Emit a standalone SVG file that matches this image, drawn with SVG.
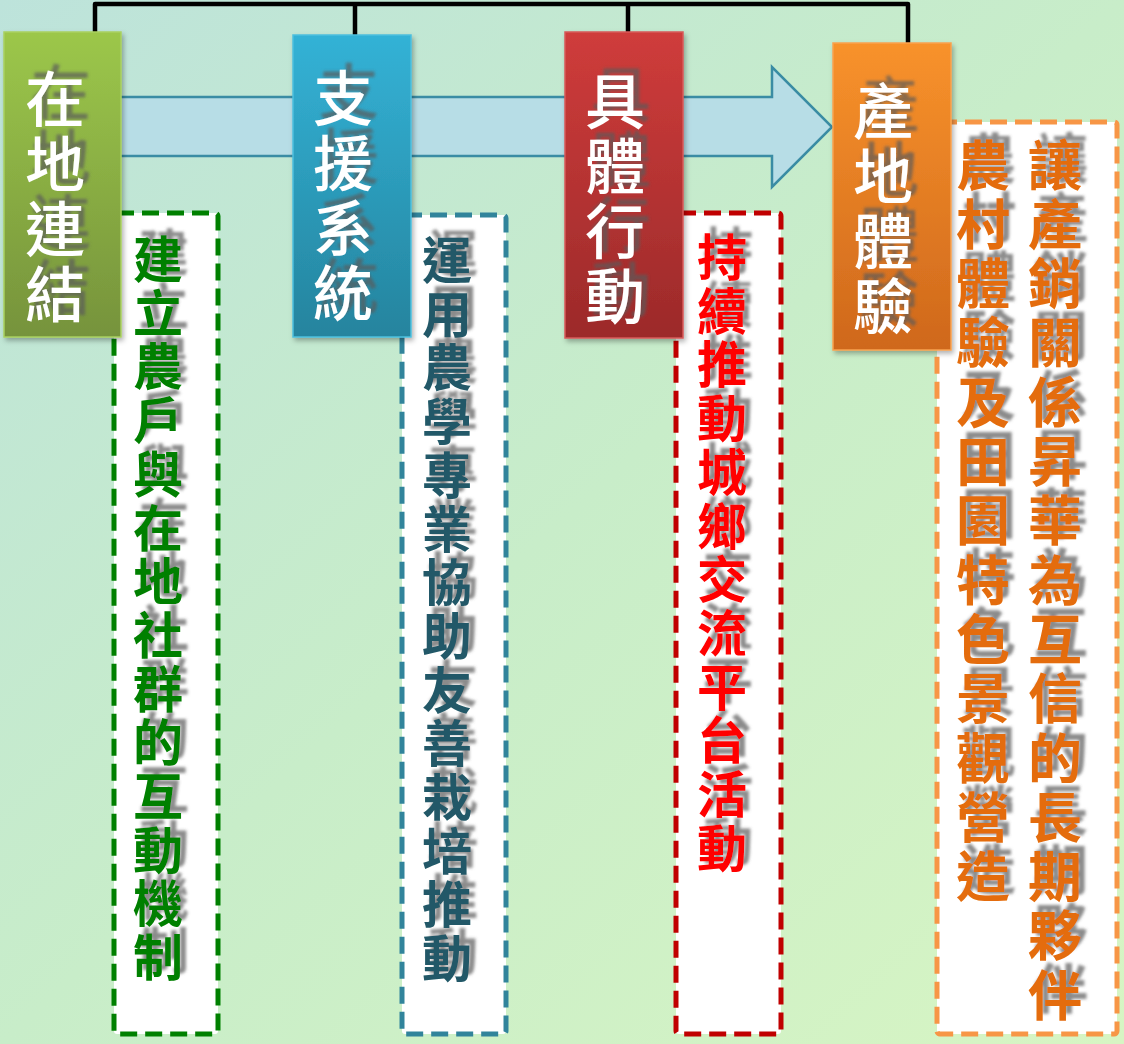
<svg xmlns="http://www.w3.org/2000/svg" width="1124" height="1044" viewBox="0 0 1124 1044">
<defs>
<linearGradient id="bg" x1="0" y1="0" x2="1" y2="1">
<stop offset="0" stop-color="#bde3db"/>
<stop offset="0.5" stop-color="#c8edc9"/>
<stop offset="1" stop-color="#d7f5c3"/>
</linearGradient>
<linearGradient id="gGreen" x1="0" y1="0" x2="0" y2="1"><stop offset="0" stop-color="#9cc74a"/><stop offset="1" stop-color="#76933c"/></linearGradient>
<linearGradient id="gBlue" x1="0" y1="0" x2="0" y2="1"><stop offset="0" stop-color="#33b2d6"/><stop offset="1" stop-color="#25849e"/></linearGradient>
<linearGradient id="gRed" x1="0" y1="0" x2="0" y2="1"><stop offset="0" stop-color="#cf3c3b"/><stop offset="1" stop-color="#9c2a2a"/></linearGradient>
<linearGradient id="gOrange" x1="0" y1="0" x2="0" y2="1"><stop offset="0" stop-color="#f8922b"/><stop offset="1" stop-color="#cf681c"/></linearGradient>
<filter id="ts" x="-40%" y="-10%" width="180%" height="120%">
<feGaussianBlur in="SourceAlpha" stdDeviation="1.8"/>
<feOffset dx="6" dy="-7" result="b"/>
<feFlood flood-color="#5a5a5a" flood-opacity="0.7"/>
<feComposite in2="b" operator="in" result="s"/>
<feMerge><feMergeNode in="s"/><feMergeNode in="SourceGraphic"/></feMerge>
</filter>
<filter id="bs" x="-10%" y="-5%" width="125%" height="115%">
<feDropShadow dx="2" dy="3" stdDeviation="2.5" flood-color="#000" flood-opacity="0.3"/>
</filter>
</defs>
<style>
.lbl{font-family:"Noto Sans CJK TC","Noto Sans CJK SC",sans-serif;font-size:60px;font-weight:500;fill:#ffffff;writing-mode:vertical-rl;letter-spacing:5px;filter:url(#ts)}
.desc{font-family:"Noto Sans CJK TC","Noto Sans CJK SC",sans-serif;font-size:50px;font-weight:bold;writing-mode:vertical-rl;letter-spacing:3.7px;filter:url(#ts)}
.desc2{font-family:"Noto Sans CJK TC","Noto Sans CJK SC",sans-serif;font-size:54px;font-weight:bold;writing-mode:vertical-rl;letter-spacing:5.3px;fill:#e46c0a;filter:url(#ts)}
.dbox{fill:#ffffff;stroke-width:5;stroke-dasharray:17 8}
.conn{fill:none;stroke:#000000;stroke-width:4.5;stroke-linejoin:round}
.box{filter:url(#bs);stroke-width:1.5}
</style>
<rect width="1124" height="1044" fill="url(#bg)"/>

<g id="flow-arrow">
<polygon points="60,97 772,97 772,67 832,127 772,187 772,156 60,156" fill="#b7dde6" stroke="#3a8ca4" stroke-width="2.5"/>
</g>

<g id="connectors">
<path class="conn" d="M95,33 V4 H908 V44 M355,4 V36 M628,4 V33"/>
</g>

<g id="desc-1">
<rect class="dbox" x="114" y="213" width="104" height="821" rx="3" stroke="#008000"/>
<text class="desc" x="158" y="234" fill="#008000">建立農戶與在地社群的互動機制</text>
</g>
<g id="desc-2">
<rect class="dbox" x="402" y="215" width="104" height="819" rx="3" stroke="#31849b"/>
<text class="desc" x="447" y="235" fill="#215967">運用農學專業協助友善栽培推動</text>
</g>
<g id="desc-3">
<rect class="dbox" x="676" y="213" width="105" height="821" rx="3" stroke="#c00000"/>
<text class="desc" x="722" y="232" fill="#ff0000">持續推動城鄉交流平台活動</text>
</g>
<g id="desc-4">
<rect class="dbox" x="937" y="122" width="180" height="912" rx="3" stroke="#f79646"/>
<text class="desc2" x="1055" y="138">讓產銷關係昇華為互信的長期夥伴</text>
<text class="desc2" x="983" y="138">農村體驗及田園特色景觀營造</text>
</g>

<g id="node-1">
<rect class="box" x="4" y="32" width="117" height="305" fill="url(#gGreen)" stroke="#a9d160"/>
<text class="lbl" x="55" y="69">在地連結</text>
</g>
<g id="node-2">
<rect class="box" x="293" y="35" width="118" height="302" fill="url(#gBlue)" stroke="#4cc0de"/>
<text class="lbl" x="343" y="68">支援系統</text>
</g>
<g id="node-3">
<rect class="box" x="565" y="32" width="118" height="306" fill="url(#gRed)" stroke="#d85a5a"/>
<text class="lbl" x="615" y="71">具體行動</text>
</g>
<g id="node-4">
<rect class="box" x="833" y="43" width="118" height="307" fill="url(#gOrange)" stroke="#f9a24f"/>
<text class="lbl" x="883" y="81">產地體驗</text>
</g>
</svg>
